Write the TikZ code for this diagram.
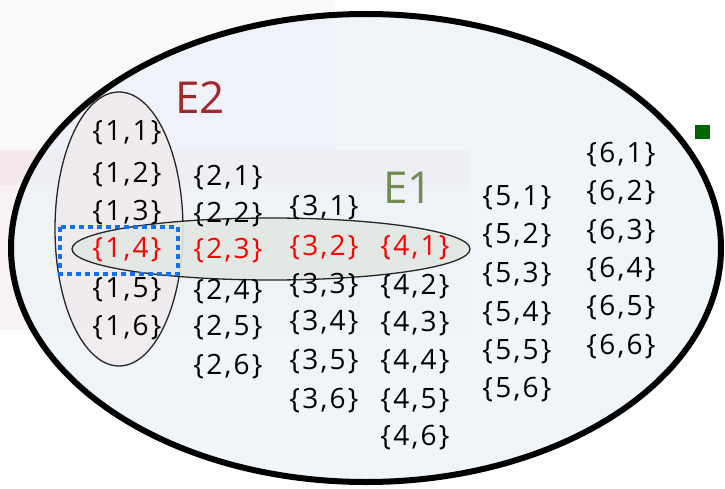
\documentclass[tikz,border=0pt]{standalone}
\usepackage{fontspec}
\setmainfont{Open Sans}[LetterSpace=8.0]
\definecolor{bigfill}{RGB}{236,242,249}
\definecolor{pinkband}{RGB}{245,233,235}
\definecolor{pinkfade}{RGB}{248,242,243}
\definecolor{lightgrey}{RGB}{249,249,249}
\definecolor{etwofill}{RGB}{240,233,235}
\definecolor{eonefill}{RGB}{227,232,227}
\definecolor{etwotext}{RGB}{160,40,45}
\definecolor{eonetext}{RGB}{112,140,80}
\definecolor{dotblue}{RGB}{20,110,240}
\definecolor{sqgreen}{RGB}{0,100,0}
\begin{document}
\begin{tikzpicture}[x=1pt,y=-1pt,
  pair/.style={font=\fontsize{28}{32}\selectfont, inner sep=0pt, text=black},
  hot/.style={pair, text=red},
  elabel/.style={font=\fontsize{44}{48}\selectfont\addfontfeature{LetterSpace=0}, inner sep=0pt},
  setline/.style={draw=black!85, line width=1.3pt}]
\useasboundingbox (0,0) rectangle (725,489);
\fill[white] (0,0) rectangle (725,489);
\fill[lightgrey] (0,0) rectangle (335,150);
\fill[pinkfade] (0,180) rectangle (470,330);
\fill[pinkband] (0,150) rectangle (470,185);
% sample space
\fill[bigfill, opacity=0.75] (366,248) ellipse [x radius=355, y radius=234];
% E2
\filldraw[fill=etwofill, fill opacity=0.7, setline] (119,229) ellipse [x radius=64, y radius=137];
% E1
\filldraw[fill=eonefill, fill opacity=0.9, setline] (271,249) ellipse [x radius=199, y radius=31];
\draw[line width=6pt] (366,248) ellipse [x radius=355, y radius=234];
% labels
\node[elabel, text=etwotext] (ltwo) at (200,98) {E2};
\node[elabel, text=eonetext] (lone) at (408,188) {E1};
% column 1
\node[pair] (p11) at (127,133) {\{1,1\}};
\node[pair] (p12) at (127,175) {\{1,2\}};
\node[pair] (p13) at (127,213) {\{1,3\}};
\node[hot]  (p14) at (127,250) {\{1,4\}};
\node[pair] (p15) at (127,290) {\{1,5\}};
\node[pair] (p16) at (127,328) {\{1,6\}};
% column 2
\node[pair] (p21) at (228,178) {\{2,1\}};
\node[pair] (p22) at (228,215) {\{2,2\}};
\node[hot]  (p23) at (228,251) {\{2,3\}};
\node[pair] (p24) at (228,292) {\{2,4\}};
\node[pair] (p25) at (228,328) {\{2,5\}};
\node[pair] (p26) at (228,367) {\{2,6\}};
% column 3
\node[pair] (p31) at (324,208) {\{3,1\}};
\node[hot]  (p32) at (324,248) {\{3,2\}};
\node[pair] (p33) at (324,286) {\{3,3\}};
\node[pair] (p34) at (324,323) {\{3,4\}};
\node[pair] (p35) at (324,362) {\{3,5\}};
\node[pair] (p36) at (324,401) {\{3,6\}};
% column 4
\node[hot]  (p41) at (415,248) {\{4,1\}};
\node[pair] (p42) at (415,287) {\{4,2\}};
\node[pair] (p43) at (415,324) {\{4,3\}};
\node[pair] (p44) at (415,362) {\{4,4\}};
\node[pair] (p45) at (415,401) {\{4,5\}};
\node[pair] (p46) at (415,438) {\{4,6\}};
% column 5
\node[pair] (p51) at (517,198) {\{5,1\}};
\node[pair] (p52) at (517,236) {\{5,2\}};
\node[pair] (p53) at (517,275) {\{5,3\}};
\node[pair] (p54) at (517,314) {\{5,4\}};
\node[pair] (p55) at (517,352) {\{5,5\}};
\node[pair] (p56) at (517,390) {\{5,6\}};
% column 6
\node[pair] (p61) at (621,155) {\{6,1\}};
\node[pair] (p62) at (621,193) {\{6,2\}};
\node[pair] (p63) at (621,232) {\{6,3\}};
\node[pair] (p64) at (621,270) {\{6,4\}};
\node[pair] (p65) at (621,308) {\{6,5\}};
\node[pair] (p66) at (621,347) {\{6,6\}};
% highlight box and bullet
\draw[dotblue, line width=4.5pt, dash pattern=on 5pt off 4pt] (60,227) rectangle (178,274);
\fill[sqgreen] (695,125) rectangle (710,139);
\end{tikzpicture}
\end{document}
